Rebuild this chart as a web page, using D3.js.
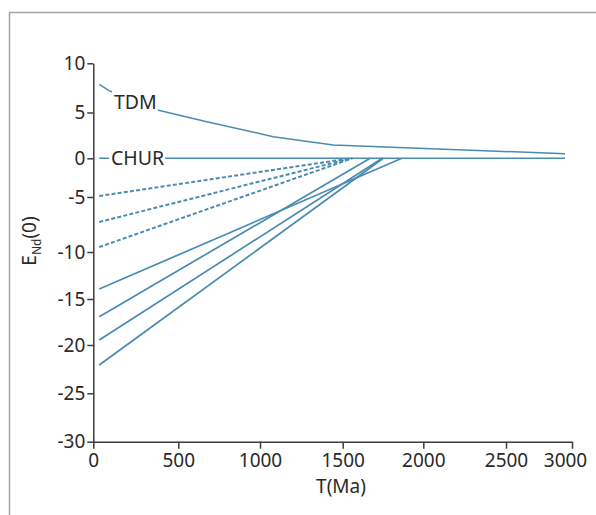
<!DOCTYPE html>
<html>
<head>
<meta charset="utf-8">
<script src="https://cdn.jsdelivr.net/npm/d3@7"></script>
<style>
  html, body { margin: 0; padding: 0; background: #fff; }
  svg { display: block; }
  text { font-family: "Noto Sans", "Open Sans", sans-serif; fill: #2a2a2a; }
</style>
</head>
<body>
<svg id="chart" width="596" height="515"></svg>
<script>
// Axis ticks
const xTicks = [0, 500, 1000, 1500, 2000, 2500, 3000];
const yTicks = [10, 5, 0, -5, -10, -15, -20, -25, -30];

// Depleted-mantle (TDM) evolution curve
const tdmT = [35, 92, 353, 674, 1080, 1443, 2947];
const tdmE = [7.87, 7.22, 5.36, 4.0, 2.36, 1.45, 0.5];

// Chondritic uniform reservoir (CHUR)
const churT = [35, 2947];
const churE = [0, 0];

// Model-age lines: present-day value at T0, reaching CHUR at the model age
const modelT0 = 35;
const dashedE0 = [-4.87, -7.27, -9.55];
const dashedAge = [1550, 1555, 1560];
const solidE0 = [-13.94, -16.92, -19.46, -22.07];
const solidAge = [1867, 1670, 1745, 1752];

const lineColor = "#4a8bb1";
const svg = d3.select("#chart");

// Outer frame
svg.append("path")
  .attr("d", "M9.5,515 V12.5 H596")
  .attr("fill", "none")
  .attr("stroke", "#a3a3a3")
  .attr("stroke-width", 1.5);

// Both axes are piecewise so each tick sits at its printed position
const x = d3.scaleLinear()
  .domain(xTicks)
  .range([93.3, 178.3, 260, 342.7, 423.3, 506, 572]);
const y = d3.scaleLinear()
  .domain(yTicks)
  .range([63.3, 112.5, 158.3, 197, 252, 299, 345, 393.3, 441.7]);

const line = d3.line().x(d => x(d[0])).y(d => y(d[1]));

const plot = svg.append("g");

// Model-age lines
dashedE0.forEach((e, i) => {
  plot.append("path")
    .attr("d", line([[modelT0, e], [dashedAge[i], 0]]))
    .attr("fill", "none")
    .attr("stroke", lineColor)
    .attr("stroke-width", 2)
    .attr("stroke-dasharray", "4,2.2");
});
solidE0.forEach((e, i) => {
  plot.append("path")
    .attr("d", line([[modelT0, e], [solidAge[i], 0]]))
    .attr("fill", "none")
    .attr("stroke", lineColor)
    .attr("stroke-width", 1.7);
});

// CHUR and TDM reference curves
plot.append("path")
  .attr("d", line(churT.map((t, i) => [t, churE[i]])))
  .attr("fill", "none")
  .attr("stroke", lineColor)
  .attr("stroke-width", 1.5);
plot.append("path")
  .attr("d", line(tdmT.map((t, i) => [t, tdmE[i]])))
  .attr("fill", "none")
  .attr("stroke", lineColor)
  .attr("stroke-width", 1.5);

// Curve labels on a white backing
function curveLabel(txt, px, py) {
  const g = svg.append("g");
  const rect = g.append("rect").attr("fill", "#fff");
  const t = g.append("text")
    .attr("x", px).attr("y", py)
    .attr("dy", "0.36em")
    .style("font-size", "19.5px")
    .text(txt);
  const b = t.node().getBBox();
  rect.attr("x", b.x - 2).attr("y", b.y + 2)
    .attr("width", b.width + 3).attr("height", b.height - 4);
}
curveLabel("TDM", 114, 102);
curveLabel("CHUR", 111, y(0));

// Axes
const axisColor = "#3c3c3c";
const xAxis = svg.append("g")
  .attr("transform", `translate(0,${y(-30)})`)
  .call(d3.axisBottom(x).tickValues(xTicks).tickFormat(d => String(d))
    .tickSize(7).tickSizeOuter(0).tickPadding(5));
const yAxis = svg.append("g")
  .attr("transform", `translate(${x(0)},0)`)
  .call(d3.axisLeft(y).tickValues(yTicks).tickFormat(d => String(d))
    .tickSize(6).tickSizeOuter(0).tickPadding(2));

[xAxis, yAxis].forEach(a => {
  a.select(".domain").attr("stroke", axisColor).attr("stroke-width", 1.5);
  a.selectAll(".tick line").attr("stroke", axisColor).attr("stroke-width", 1.5);
  a.selectAll(".tick text")
    .style("font-size", "19px")
    .style("font-family", "'Noto Sans', sans-serif")
    .attr("fill", "#2a2a2a");
});
// keep the last time label inside the frame
xAxis.selectAll(".tick text").filter(d => d === 3000).attr("dx", -7);

// Axis titles
svg.append("text")
  .attr("x", 341).attr("y", 493)
  .attr("text-anchor", "middle")
  .style("font-size", "19px")
  .text("T(Ma)");

const yt = svg.append("text")
  .attr("transform", "translate(36,241) rotate(-90)")
  .attr("text-anchor", "middle")
  .style("font-size", "19px");
yt.append("tspan").text("E");
yt.append("tspan").attr("dy", 5).style("font-size", "12px").text("Nd");
yt.append("tspan").attr("dy", -5).text("(0)");
</script>
</body>
</html>
